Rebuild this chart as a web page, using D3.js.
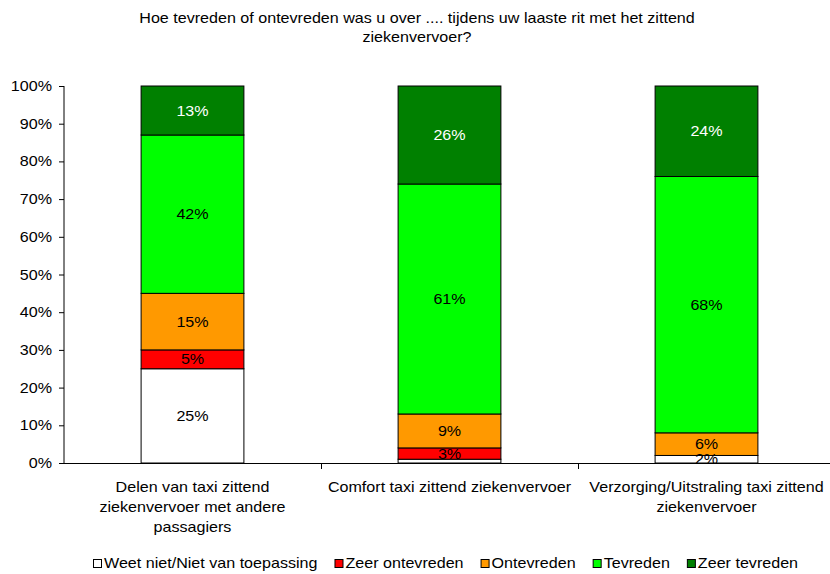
<!DOCTYPE html>
<html><head><meta charset="utf-8">
<script src="https://cdn.jsdelivr.net/npm/d3@7"></script>
<style>body{margin:0;background:#fff}svg{display:block}text{font-family:"Liberation Sans",Arial,sans-serif}</style>
</head><body>
<script>
const categories = [
  ["Delen van taxi zittend", "ziekenvervoer met andere", "passagiers"],
  ["Comfort taxi zittend ziekenvervoer"],
  ["Verzorging/Uitstraling taxi zittend", "ziekenvervoer"]
];
const seriesNames = ["Weet niet/Niet van toepassing", "Zeer ontevreden", "Ontevreden", "Tevreden", "Zeer tevreden"];
const seriesColors = ["#FFFFFF", "#FF0000", "#FF9900", "#00FF00", "#008000"];
const labelColors = ["#000", "#000", "#000", "#000", "#fff"];
const weetNiet       = [25, 1, 2];
const zeerOntevreden = [5, 3, 0];
const ontevreden     = [15, 9, 6];
const tevreden       = [42, 61, 68];
const zeerTevreden   = [13, 26, 24];
const series = [weetNiet, zeerOntevreden, ontevreden, tevreden, zeerTevreden];
const yTicks = [0, 10, 20, 30, 40, 50, 60, 70, 80, 90, 100];
const titleLines = ["Hoe tevreden of ontevreden was u over .... tijdens uw laaste rit met het zittend", "ziekenvervoer?"];

const W = 830, H = 574;
const svg = d3.select("body").append("svg").attr("width", W).attr("height", H);
const fs = 14;
const SX = 1.15;

// text helper: horizontally stretched text
function txt(parent, x0, y0, s, anchor, color) {
  const g = parent.append("g").attr("transform", `translate(${x0},${y0}) scale(${SX},1)`);
  const t = g.append("text").attr("x", 0).attr("y", 0).attr("text-anchor", anchor || "start")
    .attr("font-size", fs).attr("fill", color || "#000").text(s);
  return t;
}

const x = d3.scaleBand().domain(d3.range(categories.length)).range([64, 835]).paddingInner(0).paddingOuter(0);
const y = d3.scaleLinear().domain([0, 100]).range([463, 86]);
const barW = x.bandwidth() * 0.4;

// title
titleLines.forEach((l, i) => txt(svg, 417, 23 + i * 19, l, "middle"));

// stacks
const stackData = categories.map((c, i) => {
  let acc = 0;
  return series.map((s, k) => { const y0 = acc; acc += s[i]; return {cat: i, k, y0, y1: acc, v: s[i]}; });
});
const g = svg.append("g");
stackData.forEach(segs => {
  segs.filter(d => d.v > 0).forEach(d => {
    g.append("rect")
      .attr("x", x(d.cat) + (x.bandwidth() - barW) / 2)
      .attr("y", y(d.y1)).attr("width", barW).attr("height", y(d.y0) - y(d.y1))
      .attr("fill", seriesColors[d.k]).attr("stroke", "#000").attr("stroke-width", 1);
  });
});

// axes
const yAxis = d3.axisLeft(y).tickValues(yTicks).tickFormat("").tickSize(5);
const ya = svg.append("g").attr("transform", "translate(64,0)").call(yAxis);
ya.selectAll("line").attr("stroke", "#000");
ya.select(".domain").attr("stroke", "#000").attr("d", "M0,463V86");
yTicks.forEach(v => txt(svg, 52, y(v) + 5, v + "%", "end"));

svg.append("line").attr("x1", 60).attr("x2", 835).attr("y1", 463.5).attr("y2", 463.5).attr("stroke", "#000");
d3.range(1, categories.length).forEach(i => {
  svg.append("line").attr("x1", x(i) + 0.5).attr("x2", x(i) + 0.5).attr("y1", 463).attr("y2", 469).attr("stroke", "#000");
});

// data labels
stackData.forEach(segs => {
  segs.filter(d => d.v >= 2).forEach(d => {
    txt(g, x(d.cat) + x.bandwidth() / 2, (y(d.y0) + y(d.y1)) / 2 + 5, d.v + "%", "middle", labelColors[d.k]);
  });
});

// category labels
categories.forEach((lines, i) => {
  lines.forEach((l, j) => txt(svg, x(i) + x.bandwidth() / 2, 492 + j * 20, l, "middle"));
});

// legend
const leg = svg.append("g");
let lx = 93;
seriesNames.forEach((n, k) => {
  leg.append("rect").attr("x", lx + 0.5).attr("y", 559.5).attr("width", 8).attr("height", 8)
    .attr("fill", seriesColors[k]).attr("stroke", "#000");
  const t = txt(leg, lx + 11, 568, n, "start");
  lx += 11 + t.node().getComputedTextLength() * SX + 17;
});
</script>
</body></html>
